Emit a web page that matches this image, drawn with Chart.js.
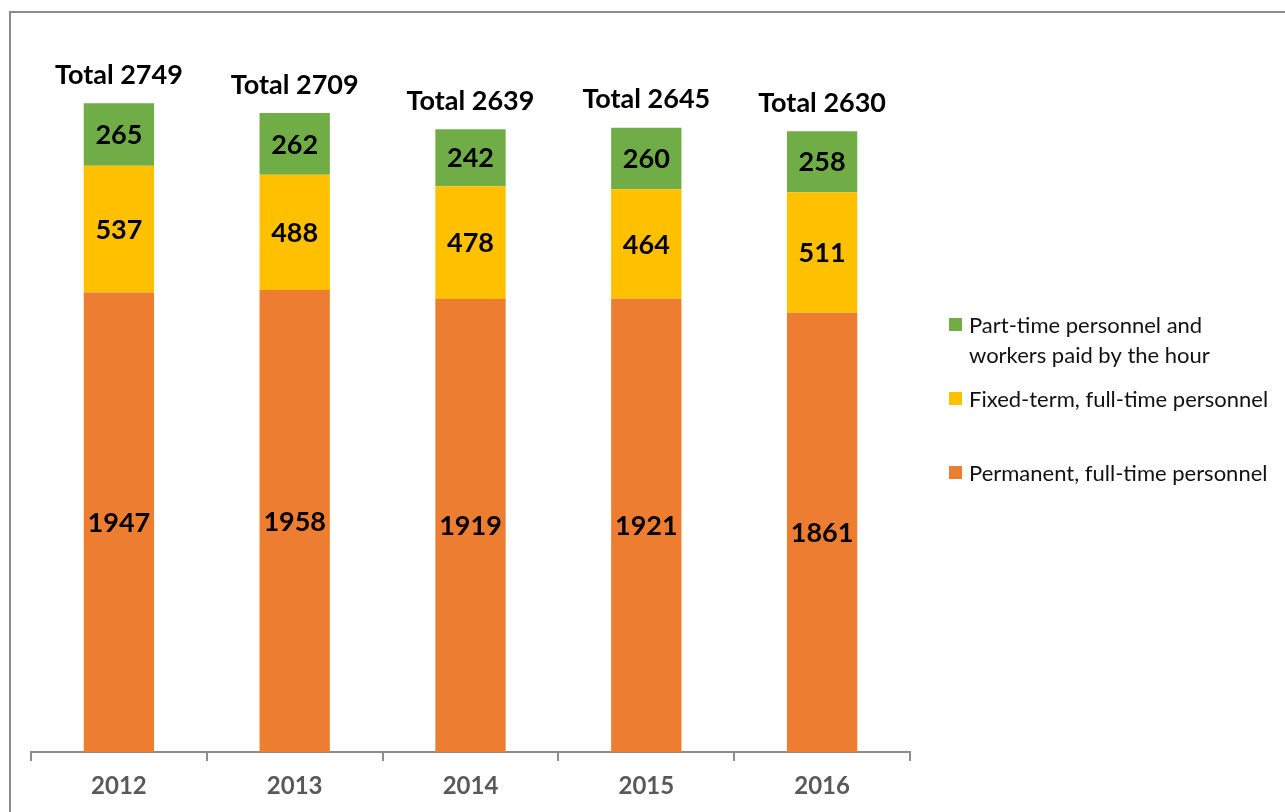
<!DOCTYPE html>
<html>
<head>
<meta charset="utf-8">
<script src="https://cdn.jsdelivr.net/npm/chart.js@4"></script>
<style>
  html, body { margin: 0; padding: 0; background: #fff; }
  #wrap { position: relative; width: 1285px; height: 812px; overflow: hidden; }
  #frame { position: absolute; left: 9px; top: 11px; width: 1400px; height: 900px;
           border-top: 2px solid #8c8c8c; border-left: 2px solid #8c8c8c; box-sizing: border-box; }
  canvas { position: absolute; left: 0; top: 0; }
</style>
</head>
<body>
<div id="wrap">
  <div id="frame"></div>
  <canvas id="chart" width="1285" height="812"></canvas>
</div>
<script>
// Staff by employment type, per year
const years = ['2012', '2013', '2014', '2015', '2016'];
const permanent = [1947, 1958, 1919, 1921, 1861];
const fixedTerm = [537, 488, 478, 464, 511];
const partTime = [265, 262, 242, 260, 258];
const totals = [2749, 2709, 2639, 2645, 2630];

const seriesNames = [
  'Permanent, full-time personnel',
  'Fixed-term, full-time personnel',
  ['Part-time personnel and', 'workers paid by the hour'],
];
const seriesColors = ['#ED7D31', '#FFC000', '#70AD47'];

const FONT = 'Lato, Carlito, Calibri, "Open Sans", sans-serif';

// value labels inside segments + totals above each bar
const labelsPlugin = {
  id: 'barLabels',
  afterDatasetsDraw(chart) {
    const { ctx } = chart;
    ctx.save();
    ctx.fillStyle = '#000';
    ctx.textAlign = 'center';
    ctx.textBaseline = 'middle';
    ctx.font = 'bold 27px ' + FONT;
    chart.data.datasets.forEach((ds, di) => {
      const meta = chart.getDatasetMeta(di);
      meta.data.forEach((bar, i) => {
        ctx.fillText(String(ds.data[i]), bar.x, (bar.y + bar.base) / 2 + 1);
      });
    });
    const top = chart.getDatasetMeta(chart.data.datasets.length - 1);
    ctx.font = 'bold 27px ' + FONT;
    top.data.forEach((bar, i) => {
      ctx.fillText('Total ' + totals[i], bar.x, bar.y - 28);
    });
    ctx.restore();
  },
};

// legend drawn at the right, top series first
const legendPlugin = {
  id: 'sideLegend',
  afterDraw(chart) {
    const { ctx } = chart;
    const rows = [325, 399, 473];
    ctx.save();
    ctx.font = '22px ' + FONT;
    ctx.textBaseline = 'middle';
    ctx.textAlign = 'left';
    const order = [2, 1, 0];
    order.forEach((di, k) => {
      const ds = chart.data.datasets[di];
      const y = rows[k];
      ctx.fillStyle = ds.backgroundColor;
      ctx.fillRect(949, y - 7, 13, 13);
      ctx.fillStyle = '#111';
      const lines = Array.isArray(ds.label) ? ds.label : [ds.label];
      lines.forEach((t, j) => ctx.fillText(t, 969, y + 1 + j * 30));
    });
    ctx.restore();
  },
};

new Chart(document.getElementById('chart'), {
  type: 'bar',
  data: {
    labels: years,
    datasets: [
      { label: seriesNames[0], data: permanent, backgroundColor: seriesColors[0] },
      { label: seriesNames[1], data: fixedTerm, backgroundColor: seriesColors[1] },
      { label: seriesNames[2], data: partTime, backgroundColor: seriesColors[2] },
    ],
  },
  options: {
    responsive: false,
    animation: false,
    datasets: { bar: { categoryPercentage: 1, barPercentage: 0.4 } },
    layout: { padding: { left: 31, right: 375, top: 44, bottom: 0 } },
    plugins: { legend: { display: false }, tooltip: { enabled: false } },
    scales: {
      x: {
        stacked: true,
        border: { display: true, color: '#8c8c8c', width: 2 },
        grid: { offset: true, drawOnChartArea: false, color: '#8c8c8c', lineWidth: 2, tickLength: 9 },
        ticks: { color: '#595959', font: { family: FONT, size: 24, weight: 'bold' }, padding: 11 },
        afterFit(scale) { scale.height = 60; },
      },
      y: { stacked: true, display: false, min: 0, max: 3000 },
    },
  },
  plugins: [labelsPlugin, legendPlugin],
});
</script>
</body>
</html>
